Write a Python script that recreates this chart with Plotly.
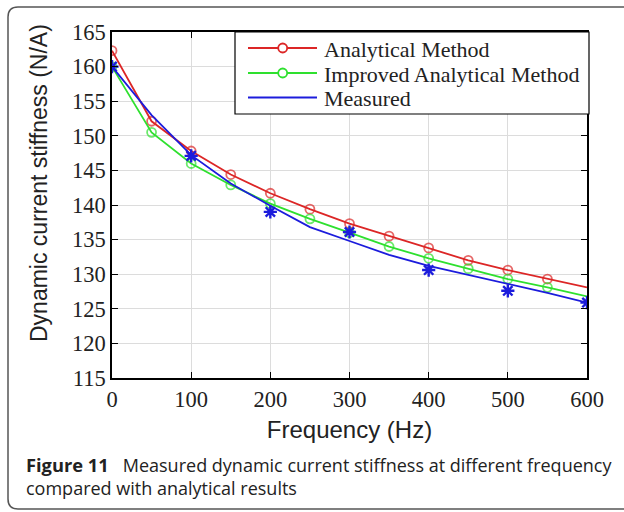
import plotly.graph_objects as go

# ---- data ----
freq = [0, 50, 100, 150, 200, 250, 300, 350, 400, 450, 500, 550, 600]
analytical = [162.3, 152.1, 147.8, 144.4, 141.7, 139.4, 137.3, 135.5, 133.8, 132.0, 130.6, 129.3, 128.1]
improved = [160.0, 150.5, 146.0, 142.9, 140.2, 138.0, 136.0, 134.0, 132.3, 130.8, 129.3, 128.1, 126.8]
measured_curve = [160.0, 153.0, 147.2, 143.1, 139.9, 136.8, 134.8, 132.8, 131.2, 129.9, 128.7, 127.3, 125.9]
meas_freq = [0, 100, 200, 300, 400, 500, 600]
measured = [160.0, 147.1, 139.0, 136.1, 130.6, 127.6, 125.9]
x_ticks = [0, 100, 200, 300, 400, 500, 600]
y_ticks = [115, 120, 125, 130, 135, 140, 145, 150, 155, 160, 165]
series_names = ["Analytical Method", "Improved Analytical Method", "Measured"]

RED = "#dc2626"
GREEN = "#2ee02e"
BLUE = "#1c1cdc"
series_colors = [RED, GREEN, BLUE]
series_has_marker = [True, True, False]

W, H = 624, 512
L, R, T, B = 112, 587, 32, 378

marker_sizes = [9] * (len(freq) - 1) + [0]

fig = go.Figure()
fig.add_trace(go.Scatter(
    x=freq, y=analytical, name=series_names[0], mode="lines+markers",
    line=dict(color=RED, width=1.8),
    marker=dict(symbol="circle-open", size=marker_sizes, color=RED, line=dict(width=1.8, color=RED)),
))
fig.add_trace(go.Scatter(
    x=freq, y=improved, name=series_names[1], mode="lines+markers",
    line=dict(color=GREEN, width=1.8),
    marker=dict(symbol="circle-open", size=marker_sizes, color=GREEN, line=dict(width=1.8, color=GREEN)),
))
fig.add_trace(go.Scatter(
    x=freq, y=measured_curve, name=series_names[2], mode="lines",
    line=dict(color=BLUE, width=1.8),
))
fig.add_trace(go.Scatter(
    x=meas_freq, y=measured, name="Measured points", mode="markers",
    marker=dict(symbol="asterisk-open", size=11, color=BLUE, line=dict(width=2.4, color=BLUE)),
))

def px_x(p):
    return (p - L) / (R - L)

def px_y(p):
    return (B - p) / (B - T)

# rounded frame around the figure (open to the right)
r = 10
x0, y0, y1, x1 = 8, 7, 509, 624
path = (
    f"M {px_x(x1)},{px_y(y0)} L {px_x(x0 + r)},{px_y(y0)} "
    f"Q {px_x(x0)},{px_y(y0)} {px_x(x0)},{px_y(y0 + r)} "
    f"L {px_x(x0)},{px_y(y1 - r)} "
    f"Q {px_x(x0)},{px_y(y1)} {px_x(x0 + r)},{px_y(y1)} "
    f"L {px_x(x1)},{px_y(y1)}"
)
fig.add_shape(type="path", path=path, xref="paper", yref="paper",
              line=dict(color="#555555", width=1.5), layer="above")

# legend box (MATLAB style)
fig.add_shape(type="rect", xref="paper", yref="paper",
              x0=px_x(235), x1=px_x(589), y0=px_y(114), y1=px_y(32),
              line=dict(color="black", width=1.2), fillcolor="white", layer="above")
row_y = [48, 73, 97.5]
for name, color, has_m, yy in zip(series_names, series_colors, series_has_marker, row_y):
    fig.add_shape(type="line", xref="paper", yref="paper",
                  x0=px_x(248), x1=px_x(317), y0=px_y(yy), y1=px_y(yy),
                  line=dict(color=color, width=1.8), layer="above")
    if has_m:
        fig.add_shape(type="circle", xref="paper", yref="paper",
                      xsizemode="pixel", ysizemode="pixel",
                      xanchor=px_x(282.7), yanchor=px_y(yy),
                      x0=-4.5, x1=4.5, y0=-4.5, y1=4.5,
                      line=dict(color=color, width=1.8), fillcolor="white", layer="above")
    fig.add_annotation(text=name, xref="paper", yref="paper",
                       x=px_x(322), y=px_y(yy + 1), xanchor="left", yanchor="middle",
                       showarrow=False,
                       font=dict(family="Liberation Serif", size=22, color="#222222"))

fig.add_annotation(
    text="<span style='font-size:18.3px'><b>Figure 11</b></span>&nbsp;&nbsp;&nbsp;Measured dynamic current stiffness at different frequency<br>compared with analytical results",
    xref="paper", yref="paper", x=px_x(24), y=px_y(450), xanchor="left", yanchor="top",
    align="left", showarrow=False,
    font=dict(family="Open Sans", size=18, color="#222222"),
)

fig.add_annotation(
    text="Dynamic current stiffness (N/A)", textangle=-90,
    xref="paper", yref="paper", x=px_x(39), y=px_y(183), xanchor="center", yanchor="middle",
    showarrow=False,
    font=dict(family="Liberation Sans", size=23, color="#222222"),
)

axis_common = dict(
    showline=True, linecolor="black", linewidth=1.5, mirror="ticks",
    ticks="inside", ticklen=6, tickwidth=1.2, tickcolor="black",
    showgrid=True, gridcolor="#dcdcdc", gridwidth=1, zeroline=False,
    tickfont=dict(family="Liberation Serif", size=22.5, color="#222222"),
)

fig.update_layout(
    width=W, height=H,
    margin=dict(l=L, r=W - R, t=T, b=H - B),
    paper_bgcolor="white", plot_bgcolor="white",
    xaxis=dict(range=[0, 600], tickvals=x_ticks,
               title=dict(text="Frequency (Hz)", standoff=10,
                          font=dict(family="Liberation Sans", size=24, color="#222222")),
               **axis_common),
    yaxis=dict(range=[115, 165], tickvals=y_ticks, **axis_common),
    showlegend=False,
)

fig.write_html("out.html", config={"displayModeBar": False},
               post_script="document.body.style.margin='0';")
